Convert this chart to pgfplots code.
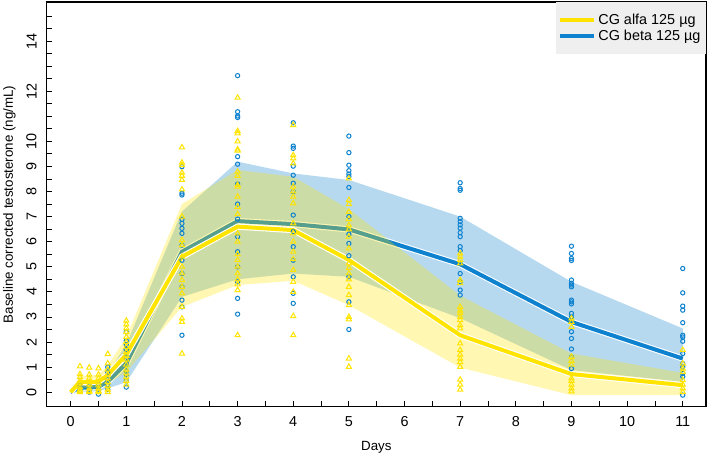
\documentclass[border=0pt]{standalone}
\usepackage{fontspec}
\setmainfont{Liberation Sans}
\usepackage{pgfplots}
\usepackage{pgfplotstable}
\pgfplotsset{compat=1.18}
\definecolor{cgy}{RGB}{255,228,0}
\definecolor{cgb}{RGB}{14,130,206}
\definecolor{leggray}{RGB}{239,239,239}

\pgfplotstableread{
t mean
0 0
0.1667 0.42
0.3333 0.40
0.5 0.42
0.6667 0.68
1 1.5
2 5.4
3 6.6
4 6.46
5 5.27
7 2.27
9 0.72
11 0.28
}\alfa

\pgfplotstableread{
t mean
0 0
0.1667 0.18
0.3333 0.18
0.5 0.22
0.6667 0.42
1 1.15
2 5.6
3 6.82
4 6.7
5 6.49
7 5.1
9 2.8
11 1.34
}\beta

\begin{document}
\begin{tikzpicture}
\begin{axis}[
  scale only axis, width=494.25pt, height=303.5pt,
  xmin=-0.431, xmax=11.418, ymin=-0.586, ymax=15.556,
  xtick={0,1,2,3,4,5,6,7,8,9,10,11},
  minor xtick={0.5,1.5,2.5,3.5,4.5,5.5,6.5,7.5,8.5,9.5,10.5},
  ytick={0,1,2,3,4,5,6,7,8,9,10,12,14},
  minor ytick={0.5,1.5,2.5,3.5,4.5,5.5,6.5,7.5,8.5,9.5,10.5,11,11.5,12.5,13,13.5,14.5,15},
  tick pos=left, tick align=inside,
  major tick length=4.2pt, minor tick length=4.2pt,
  every tick/.style={black, line width=0.6pt},
  every minor tick/.style={black, line width=0.6pt},
  axis line style={line width=0.8pt},
  /pgf/number format/assume math mode=true,
  ticklabel style={font=\fontsize{10.8}{12}\selectfont},
  xticklabel style={yshift=-3.75pt},
  yticklabel style={rotate=90, anchor=south, yshift=4pt},
  label style={font=\fontsize{10.8}{12}\selectfont},
  xlabel={Days},
  ylabel={Baseline corrected testosterone (ng/mL)},
  every axis x label/.style={at={(axis description cs:0.5,0)}, anchor=center, yshift=-30.6pt},
  every axis y label/.style={at={([xshift=-28pt]axis description cs:0,0.5)}, rotate=90, anchor=center},
  legend style={at={(1,1)}, anchor=north east, fill=leggray, draw=none,
    font=\fontsize{10.8}{12}\selectfont, inner xsep=2pt, inner ysep=7pt, row sep=-1.5pt},
  legend cell align=left,
  legend image code/.code={\draw[#1] (0pt,0pt) -- (21.75pt,0pt); \path (0pt,0pt) -- (25pt,0pt);},
  clip=true,
]
\addlegendimage{cgy, line width=3pt}
\addlegendentry{CG alfa 125 µg\hspace{5pt}}
\addlegendimage{cgb, line width=3pt}
\addlegendentry{CG beta 125 µg\hspace{5pt}}

% beta ribbon (upper limit forward, lower limit backward)
\addplot[fill=cgb, fill opacity=0.3, draw=none, forget plot] coordinates {
(0,0)(0.1667,0.35)(0.3333,0.35)(0.5,0.42)(0.6667,0.75)(1,1.9)(2,7.2)(3,9.19)(4,8.72)(5,8.46)(7,7.0)(9,4.4)(11,2.54)
(11,0.41)(9,0.88)(7,2.95)(5,4.6)(4,4.73)(3,4.5)(2,3.8)(1,0.4)(0.6667,0.15)(0.5,0.04)(0.3333,0.02)(0.1667,0.02)(0,0)
} -- cycle;

% beta points
\addplot[only marks, mark=o, mark size=1.6pt, cgb, line width=0.75pt, forget plot] coordinates {
(0.1667,0.3)(0.1667,0.15)(0.1667,0.05)
(0.3333,0.25)(0.3333,0.1)(0.3333,0.0)
(0.5,0.3)(0.5,0.1)(0.5,-0.08)
(0.6667,1.0)(0.6667,0.8)(0.6667,0.5)(0.6667,0.3)(0.6667,0.1)
(1,2.4)(1,2.05)(1,1.9)(1,1.7)(1,1.4)(1,1.1)(1,0.85)(1,0.7)(1,0.45)(1,0.2)
(2,8.99)(2,7.93)(2,7.86)(2,6.89)(2,6.73)(2,6.53)(2,6.33)(2,5.86)(2,5.26)(2,4.73)(2,4.2)(2,3.67)(2,3.4)(2,2.27)
(3,12.62)(3,11.18)(3,11.01)(3,10.95)(3,9.39)(3,9.09)(3,8.3)(3,7.5)(3,6.9)(3,6.2)(3,5.6)(3,5.0)(3,4.4)(3,3.74)(3,3.11)
(4,10.74)(4,9.81)(4,9.72)(4,9.01)(4,8.65)(4,8.33)(4,7.99)(4,7.06)(4,6.4)(4,5.8)(4,5.26)(4,4.6)(4,3.94)(4,3.54)
(5,10.21)(5,9.55)(5,9.05)(5,8.83)(5,8.7)(5,8.6)(5,8.16)(5,7.0)(5,6.3)(5,5.93)(5,5.44)(5,4.6)(5,3.6)(5,2.5)
(7,8.35)(7,8.12)(7,8.05)(7,6.93)(7,6.8)(7,6.67)(7,6.54)(7,6.36)(7,6.2)(7,5.8)(7,5.65)(7,5.13)(7,4.73)(7,4.4)(7,4.07)(7,3.87)
(9,5.82)(9,5.53)(9,5.33)(9,5.25)(9,4.47)(9,4.34)(9,4.27)(9,4.2)(9,3.67)(9,3.6)(9,3.52)(9,3.14)(9,3.0)(9,2.41)(9,2.14)(9,1.72)(9,1.4)(9,0.94)
(11,4.93)(11,3.96)(11,3.43)(11,3.27)(11,2.77)(11,2.27)(11,2.2)(11,2.03)(11,1.54)(11,1.14)(11,1.0)(11,0.75)(11,0.62)(11,-0.12)
};

% beta mean line
\addplot[white, line width=4.6pt, forget plot] table[x=t, y=mean] {\beta};
\addplot[cgb, line width=3pt, forget plot] table[x=t, y=mean] {\beta};

% alfa ribbon
\addplot[fill=cgy, fill opacity=0.3, draw=none, forget plot] coordinates {
(0,0)(0.1667,0.65)(0.3333,0.65)(0.5,0.70)(0.6667,1.05)(1,2.2)(2,7.5)(3,8.86)(4,8.59)(5,7.3)(7,3.85)(9,1.54)(11,0.77)
(11,-0.12)(9,-0.12)(7,0.98)(5,3.47)(4,4.44)(3,4.27)(2,3.4)(1,0.8)(0.6667,0.35)(0.5,0.15)(0.3333,0.15)(0.1667,0.18)(0,0)
} -- cycle;

% alfa points
\addplot[only marks, mark=triangle, mark size=2.2pt, cgy, line width=0.75pt, forget plot] coordinates {
(0.1667,1.03)(0.1667,0.72)(0.1667,0.6)(0.1667,0.45)(0.1667,0.35)(0.1667,0.2)(0.1667,0.1)(0.1667,0.05)(0.1667,0.0)
(0.3333,0.98)(0.3333,0.7)(0.3333,0.55)(0.3333,0.4)(0.3333,0.3)(0.3333,0.15)(0.3333,0.05)(0.3333,0.0)
(0.5,0.95)(0.5,0.7)(0.5,0.55)(0.5,0.4)(0.5,0.3)(0.5,0.15)(0.5,0.05)(0.5,0.0)
(0.6667,1.52)(0.6667,1.15)(0.6667,0.9)(0.6667,0.7)(0.6667,0.55)(0.6667,0.4)(0.6667,0.25)(0.6667,0.1)(0.6667,0.0)
(1,2.85)(1,2.7)(1,2.55)(1,2.4)(1,2.2)(1,2.0)(1,1.8)(1,1.6)(1,1.45)(1,1.3)(1,1.1)(1,0.9)(1,0.75)(1,0.6)(1,0.45)(1,0.3)
(2,9.76)(2,9.15)(2,9.05)(2,8.75)(2,8.62)(2,8.46)(2,8.08)(2,7.0)(2,6.06)(2,5.86)(2,5.4)(2,5.0)(2,4.73)(2,4.47)(2,4.2)(2,3.94)(2,3.4)(2,2.94)(2,2.8)(2,1.54)
(3,11.74)(3,10.41)(3,10.32)(3,10.0)(3,9.68)(3,9.63)(3,8.79)(3,8.62)(3,8.26)(3,8.19)(3,7.79)(3,7.39)(3,7.1)(3,6.33)(3,6.0)(3,5.5)(3,5.27)(3,5.0)(3,4.73)(3,4.5)(3,4.3)(3,4.07)(3,2.27)
(4,10.65)(4,9.45)(4,9.32)(4,9.12)(4,8.19)(4,8.0)(4,7.79)(4,7.53)(4,6.73)(4,6.33)(4,6.0)(4,5.6)(4,5.3)(4,4.87)(4,4.4)(4,4.0)(4,3.03)(4,2.27)
(5,8.52)(5,7.66)(5,7.5)(5,7.19)(5,6.9)(5,6.65)(5,6.49)(5,6.2)(5,5.73)(5,5.13)(5,4.95)(5,4.73)(5,4.5)(5,4.2)(5,3.87)(5,3.47)(5,3.0)(5,2.9)(5,1.34)(5,1.01)
(7,5.53)(7,5.4)(7,5.27)(7,5.13)(7,4.47)(7,4.35)(7,3.4)(7,3.25)(7,3.15)(7,3.0)(7,2.87)(7,2.67)(7,2.54)(7,1.94)(7,1.68)(7,1.5)(7,1.34)(7,1.2)(7,1.01)(7,0.5)(7,0.3)(7,0.1)
(9,2.94)(9,2.8)(9,2.6)(9,1.41)(9,1.25)(9,1.1)(9,0.55)(9,0.45)(9,0.3)(9,0.15)(9,0.03)
(11,1.68)(11,1.14)(11,0.94)(11,0.8)(11,0.48)(11,0.3)(11,0.15)(11,0.01)
};

% alfa mean line
\addplot[white, line width=4.6pt, forget plot] table[x=t, y=mean] {\alfa};
\addplot[cgy, line width=3pt, forget plot] table[x=t, y=mean] {\alfa};
\end{axis}
\pgfresetboundingbox
\path[use as bounding box] ([xshift=-35pt,yshift=-34pt]current axis.south west) rectangle ([xshift=2.25pt,yshift=1.5pt]current axis.north east);
\end{tikzpicture}
\end{document}
